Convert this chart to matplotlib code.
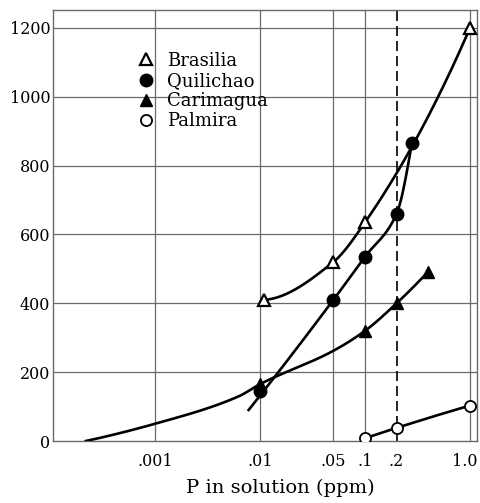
import numpy as np
import matplotlib
matplotlib.use("Agg")
import matplotlib.pyplot as plt

# P in solution (ppm) and sorption values for each soil
brasilia_x = [0.011, 0.05, 0.1, 1.0]
brasilia_y = [410, 520, 635, 1200]

quilichao_x = [0.01, 0.05, 0.1, 0.2, 0.28]
quilichao_y = [145, 410, 535, 660, 865]
# fitted line starts a little below the first point
quilichao_line_x = [0.0078, 0.05, 0.1, 0.2, 0.28]
quilichao_line_y = [90, 410, 535, 660, 865]

carimagua_x = [0.01, 0.1, 0.2, 0.4]
carimagua_y = [165, 320, 400, 492]
# fitted curve extends down to low concentrations
carimagua_line_x = [0.00022, 0.001, 0.0063, 0.01, 0.05, 0.1, 0.2, 0.4]
carimagua_line_y = [0, 50, 130, 165, 262, 320, 400, 492]

palmira_x = [0.1, 0.2, 1.0]
palmira_y = [8, 38, 103]

x_ticks = [0.001, 0.01, 0.05, 0.1, 0.2, 1.0]
x_tick_labels = [".001", ".01", ".05", ".1", ".2", "1.0"]
y_ticks = [0, 200, 400, 600, 800, 1000, 1200]


def pchip(xk, yk, xn):
    """Monotone cubic (PCHIP) interpolation."""
    xk = np.asarray(xk, float)
    yk = np.asarray(yk, float)
    h = np.diff(xk)
    d = np.diff(yk) / h
    n = len(xk)
    m = np.zeros(n)
    if n == 2:
        m[:] = d[0]
    else:
        for i in range(1, n - 1):
            if d[i - 1] * d[i] <= 0:
                m[i] = 0.0
            else:
                w1 = 2 * h[i] + h[i - 1]
                w2 = h[i] + 2 * h[i - 1]
                m[i] = (w1 + w2) / (w1 / d[i - 1] + w2 / d[i])
        m0 = ((2 * h[0] + h[1]) * d[0] - h[0] * d[1]) / (h[0] + h[1])
        if np.sign(m0) != np.sign(d[0]):
            m0 = 0.0
        elif np.sign(d[0]) != np.sign(d[1]) and abs(m0) > abs(3 * d[0]):
            m0 = 3 * d[0]
        m[0] = m0
        mn = ((2 * h[-1] + h[-2]) * d[-1] - h[-1] * d[-2]) / (h[-1] + h[-2])
        if np.sign(mn) != np.sign(d[-1]):
            mn = 0.0
        elif np.sign(d[-1]) != np.sign(d[-2]) and abs(mn) > abs(3 * d[-1]):
            mn = 3 * d[-1]
        m[-1] = mn
    xn = np.asarray(xn, float)
    idx = np.clip(np.searchsorted(xk, xn) - 1, 0, n - 2)
    t = (xn - xk[idx]) / h[idx]
    h00 = 2 * t**3 - 3 * t**2 + 1
    h10 = t**3 - 2 * t**2 + t
    h01 = -2 * t**3 + 3 * t**2
    h11 = t**3 - t**2
    return (h00 * yk[idx] + h10 * h[idx] * m[idx]
            + h01 * yk[idx + 1] + h11 * h[idx] * m[idx + 1])


def smooth(xs, ys, num=300):
    lx = np.log10(xs)
    grid = np.linspace(lx[0], lx[-1], num)
    return 10 ** grid, pchip(lx, ys, grid)


fig = plt.figure(figsize=(4.8, 5.03), dpi=100)
ax = fig.add_axes([53 / 480, 1 - 441 / 503, 424 / 480, 431 / 503])

ax.set_xscale("log")
ax.set_xlim(1.07e-4, 1.166)
ax.set_ylim(0, 1252)

grid_col = "#6a6a6a"
for yv in y_ticks[1:]:
    ax.axhline(yv, color=grid_col, lw=0.9, zorder=1)
for xv in [0.001, 0.01, 0.05, 0.1, 1.0]:
    ax.axvline(xv, color=grid_col, lw=0.9, zorder=1)
ax.axvline(0.2, color="black", lw=1.2, ls=(0, (6, 3)), zorder=1)

for sp in ax.spines.values():
    sp.set_color(grid_col)
    sp.set_linewidth(1.0)

lw = 1.9
ax.plot(*smooth(brasilia_x, brasilia_y), color="black", lw=lw, zorder=3)
ax.plot(*smooth(quilichao_line_x, quilichao_line_y), color="black", lw=lw, zorder=3)
ax.plot(*smooth(carimagua_line_x, carimagua_line_y), color="black", lw=lw, zorder=3)
ax.plot(*smooth(palmira_x, palmira_y), color="black", lw=lw, zorder=3)

ax.plot(brasilia_x, brasilia_y, ls="none", marker="^", ms=8, mfc="white",
        mec="black", mew=1.6, zorder=4, label="Brasilia")
ax.plot(quilichao_x, quilichao_y, ls="none", marker="o", ms=9, mfc="black",
        mec="black", zorder=4, label="Quilichao")
ax.plot(carimagua_x, carimagua_y, ls="none", marker="^", ms=8.5, mfc="black",
        mec="black", zorder=4, label="Carimagua")
ax.plot(palmira_x, palmira_y, ls="none", marker="o", ms=8, mfc="white",
        mec="black", mew=1.3, zorder=4, label="Palmira")

font = "DejaVu Serif"
ax.set_xticks(x_ticks)
ax.set_xticklabels(x_tick_labels)
ax.xaxis.set_minor_locator(matplotlib.ticker.NullLocator())
ax.set_yticks(y_ticks)
ax.tick_params(length=0)
ax.tick_params(axis="x", pad=9)
ax.tick_params(axis="y", pad=2)
for lab in ax.get_xticklabels() + ax.get_yticklabels():
    lab.set_fontfamily(font)
    lab.set_fontsize(11.5)
# keep the last x label inside the figure
last = ax.get_xticklabels()[-1]
last.set_horizontalalignment("right")
last.set_x(1.0)
offset = matplotlib.transforms.ScaledTranslation(8 / 100, 0, fig.dpi_scale_trans)
last.set_transform(last.get_transform() + offset)

leg = ax.legend(loc="upper left", bbox_to_anchor=(0.18, 0.92), frameon=False,
                handlelength=1.0, handletextpad=0.7, labelspacing=0.12,
                borderaxespad=0, prop={"family": font, "size": 13})

fig.text(280 / 480, 1 - 488 / 503, "P in solution (ppm)", ha="center",
         va="center", family=font, fontsize=14)

fig.savefig("out.png", dpi=100)
